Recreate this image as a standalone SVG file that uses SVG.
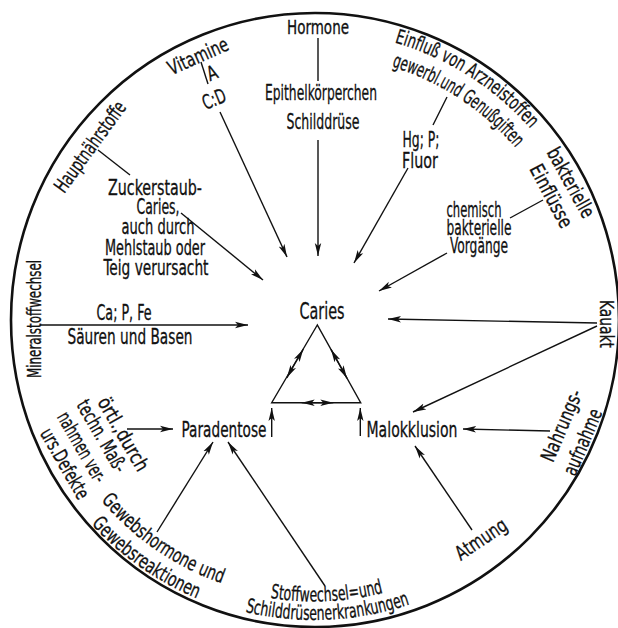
<svg xmlns="http://www.w3.org/2000/svg" width="618" height="628" viewBox="0 0 618 628">
<defs>
<style>
text{font-family:"DejaVu Sans Condensed","DejaVu Sans","Liberation Sans",sans-serif;fill:#111;stroke:#111;stroke-width:0.3;}
.t{font-size:21px;text-anchor:middle;}
.r{font-size:20px;text-anchor:middle;}
.c{stroke:#111;stroke-width:1.4;fill:none;}
.a{marker-end:url(#ah);}
.rim{fill:none;stroke:#111;stroke-width:2.6;}
</style>
<marker id="ah" markerUnits="userSpaceOnUse" markerWidth="14" markerHeight="8" refX="13" refY="4" orient="auto" viewBox="0 0 14 8"><path d="M0,0.8 L13,4 L0,7.2 L3,4 z" fill="#111"/></marker>
<path id="cw289" d="M25,320 A289,289 0 1 1 603,320 A289,289 0 1 1 25,320"/>
<path id="cw265" d="M49,320 A265,265 0 1 1 579,320 A265,265 0 1 1 49,320"/>
<path id="ccw281" d="M32.5,320 A281.5,281.5 0 1 0 595.5,320 A281.5,281.5 0 1 0 32.5,320"/>
<path id="ccw300" d="M14,320 A300,300 0 1 0 614,320 A300,300 0 1 0 14,320"/>
<path id="ccw279" d="M35,320 A279,279 0 1 0 593,320 A279,279 0 1 0 35,320"/>
<path id="ccw302" d="M12,320 A302,302 0 1 0 616,320 A302,302 0 1 0 12,320"/>
</defs>
<rect width="618" height="628" fill="#fff"/>
<ellipse class="rim" cx="315" cy="320" rx="304" ry="307"/>

<g id="connectors">
<line class="c" x1="98" y1="150" x2="130" y2="175"/>
<line class="c a" x1="181" y1="213" x2="263" y2="280"/>
<line class="c" x1="201" y1="62" x2="208" y2="84"/>
<line class="c a" x1="220" y1="112" x2="287" y2="257"/>
<line class="c" x1="318" y1="38" x2="318" y2="81"/>
<line class="c a" x1="318" y1="140" x2="318" y2="256"/>
<line class="c" x1="447" y1="97" x2="433" y2="125"/>
<line class="c a" x1="408" y1="168" x2="354" y2="263"/>
<line class="c" x1="543" y1="200" x2="510" y2="218"/>
<line class="c a" x1="447" y1="253" x2="379" y2="291"/>
<line class="c a" x1="597" y1="323" x2="388" y2="319"/>
<line class="c a" x1="597" y1="326" x2="413" y2="412"/>
<line class="c a" x1="550" y1="431" x2="463" y2="429"/>
<line class="c a" x1="472" y1="530" x2="415" y2="446"/>
<line class="c a" x1="325" y1="586" x2="228" y2="442"/>
<line class="c a" x1="157" y1="532" x2="213" y2="442"/>
<line class="c a" x1="127" y1="429" x2="173" y2="429"/>
<line class="c a" x1="40" y1="325" x2="248" y2="325"/>
<polygon class="c" points="317.3,325 271.7,402.7 360.7,402.7"/>
<line class="c a" x1="295" y1="363.5" x2="303.3" y2="349.2"/>
<line class="c a" x1="295" y1="363.5" x2="286.8" y2="377.8"/>
<line class="c a" x1="339" y1="363.8" x2="331" y2="349.4"/>
<line class="c a" x1="339" y1="363.8" x2="347" y2="378.3"/>
<line class="c a" x1="317.5" y1="402.7" x2="301.7" y2="402.7"/>
<line class="c a" x1="317.5" y1="402.7" x2="333.3" y2="402.7"/>
<line class="c a" x1="271.7" y1="437" x2="271.7" y2="408"/>
<line class="c a" x1="360.3" y1="436" x2="360.3" y2="408"/>
</g>

<g id="hormone">
<text class="r" x="318" y="34" style="font-size:19px" textLength="62" lengthAdjust="spacingAndGlyphs">Hormone</text>
<text class="t" x="321" y="100" textLength="112" lengthAdjust="spacingAndGlyphs">Epithelkörperchen</text>
<text class="t" x="323" y="129" textLength="73" lengthAdjust="spacingAndGlyphs">Schilddrüse</text>
</g>
<g id="vitamine">
<text class="r" transform="translate(198,56) rotate(-24)" y="7" textLength="64" lengthAdjust="spacingAndGlyphs">Vitamine</text>
<text class="r" transform="translate(212,73) rotate(-22)" y="7" textLength="10" lengthAdjust="spacingAndGlyphs">A</text>
<text class="r" transform="translate(214,99) rotate(-22)" y="7" textLength="24" lengthAdjust="spacingAndGlyphs">C:D</text>
</g>
<g id="hauptnaehrstoffe">
<text class="r" transform="translate(90,146.5) rotate(-54)" y="7" textLength="107" lengthAdjust="spacingAndGlyphs">Hauptnährstoffe</text>
</g>
<g id="zuckerstaub">
<text class="t" x="155" y="195" textLength="94" lengthAdjust="spacingAndGlyphs">Zuckerstaub-</text>
<text class="t" x="158" y="214" textLength="43" lengthAdjust="spacingAndGlyphs">Caries,</text>
<text class="t" x="158" y="234" textLength="73" lengthAdjust="spacingAndGlyphs">auch durch</text>
<text class="t" x="155" y="255" textLength="100" lengthAdjust="spacingAndGlyphs">Mehlstaub oder</text>
<text class="t" x="156" y="275" textLength="105" lengthAdjust="spacingAndGlyphs">Teig verursacht</text>
</g>
<g id="mineral">
<text class="r" transform="translate(41,319) rotate(-90)" textLength="118" lengthAdjust="spacingAndGlyphs">Mineralstoffwechsel</text>
<text class="t" x="124" y="320" textLength="55" lengthAdjust="spacingAndGlyphs">Ca; P, Fe</text>
<text class="t" x="130" y="344" textLength="125" lengthAdjust="spacingAndGlyphs">Säuren und Basen</text>
</g>
<g id="arznei">
<text class="r"><textPath href="#cw289" startOffset="617" textLength="163" lengthAdjust="spacingAndGlyphs">Einfluß von Arzneistoffen</textPath></text>
<text class="r"><textPath href="#cw265" startOffset="570" textLength="150" lengthAdjust="spacingAndGlyphs">gewerbl.und Genußgiften</textPath></text>
<text class="t" x="421" y="147" textLength="37" lengthAdjust="spacingAndGlyphs">Hg; P;</text>
<text class="t" x="420" y="168" textLength="36" lengthAdjust="spacingAndGlyphs">Fluor</text>
</g>
<g id="bakterien">
<text class="r" transform="translate(571,182.5) rotate(61)" y="7" textLength="77" lengthAdjust="spacingAndGlyphs">bakterielle</text>
<text class="r" transform="translate(551.5,196) rotate(62)" y="7" textLength="69" lengthAdjust="spacingAndGlyphs">Einflüsse</text>
<text class="t" x="474" y="217" textLength="55" lengthAdjust="spacingAndGlyphs">chemisch</text>
<text class="t" x="479" y="235" textLength="65" lengthAdjust="spacingAndGlyphs">bakterielle</text>
<text class="t" x="479" y="253" textLength="58" lengthAdjust="spacingAndGlyphs">Vorgänge</text>
</g>
<g id="kauakt">
<text class="r" transform="translate(600,324) rotate(90)" textLength="48" lengthAdjust="spacingAndGlyphs">Kauakt</text>
</g>
<g id="caries">
<text x="322" y="319" style="font-size:23px;text-anchor:middle" textLength="45" lengthAdjust="spacingAndGlyphs">Caries</text>
</g>
<g id="paradentose">
<text class="t" x="224" y="437" textLength="85" lengthAdjust="spacingAndGlyphs">Paradentose</text>
</g>
<g id="malokklusion">
<text class="t" x="412" y="437" textLength="91" lengthAdjust="spacingAndGlyphs">Malokklusion</text>
</g>
<g id="nahrung">
<text class="r" transform="translate(561.5,425.5) rotate(-67)" y="7" textLength="76" lengthAdjust="spacingAndGlyphs">Nahrungs-</text>
<text class="r" transform="translate(582.5,442) rotate(-67)" y="7" textLength="70" lengthAdjust="spacingAndGlyphs">aufnahme</text>
</g>
<g id="atmung">
<text class="r" transform="translate(481,539) rotate(-34)" y="7" textLength="58" lengthAdjust="spacingAndGlyphs">Atmung</text>
</g>
<g id="stoffwechsel">
<text class="r"><textPath href="#ccw281" startOffset="455" textLength="114" lengthAdjust="spacingAndGlyphs">Stoffwechsel=und</textPath></text>
<text class="r"><textPath href="#ccw300" startOffset="485" textLength="167" lengthAdjust="spacingAndGlyphs">Schilddrüsenerkrankungen</textPath></text>
</g>
<g id="gewebshormone">
<text class="r"><textPath href="#ccw279" startOffset="270" textLength="148" lengthAdjust="spacingAndGlyphs">Gewebshormone und</textPath></text>
<text class="r"><textPath href="#ccw302" startOffset="289" textLength="130" lengthAdjust="spacingAndGlyphs">Gewebsreaktionen</textPath></text>
</g>
<g id="oertlich">
<text class="r" transform="translate(123.5,434) rotate(60)" y="7" textLength="82" lengthAdjust="spacingAndGlyphs">örtl.,durch</text>
<text class="r" transform="translate(102,436) rotate(60)" y="7" textLength="80" lengthAdjust="spacingAndGlyphs">techn. Maß-</text>
<text class="r" transform="translate(82,447) rotate(60)" y="7" textLength="78" lengthAdjust="spacingAndGlyphs">nahmen ver-</text>
<text class="r" transform="translate(65,463.5) rotate(60)" y="7" textLength="78" lengthAdjust="spacingAndGlyphs">urs.Defekte</text>
</g>
</svg>
